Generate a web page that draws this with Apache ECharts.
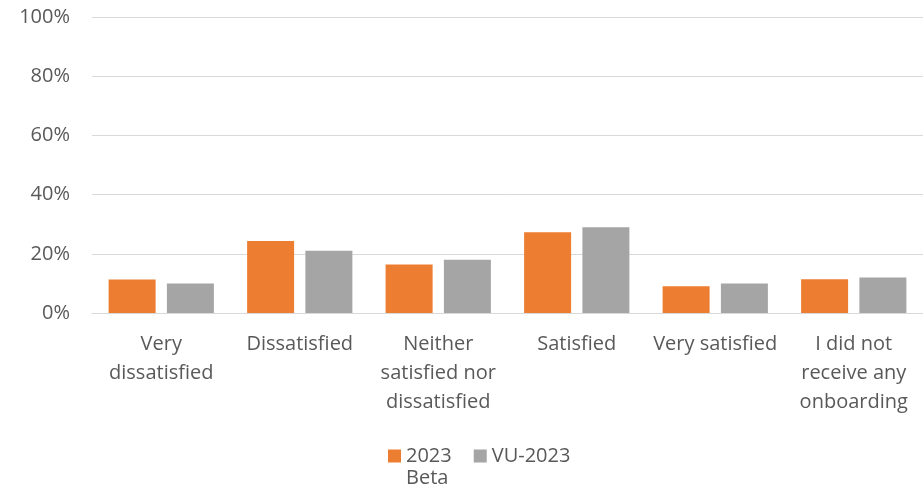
<!DOCTYPE html>
<html>
<head>
<meta charset="utf-8">
<script src="https://cdn.jsdelivr.net/npm/echarts@6/dist/echarts.min.js"></script>
<style>
  html, body { margin: 0; padding: 0; background: #fff; }
  #chart { width: 923px; height: 490px; }
</style>
</head>
<body>
<div id="chart"></div>
<script>
// Onboarding satisfaction, share of respondents per answer
const categories = [
  'Very\ndissatisfied',
  'Dissatisfied',
  'Neither\nsatisfied nor\ndissatisfied',
  'Satisfied',
  'Very satisfied',
  'I did not\nreceive any\nonboarding'
];
const seriesNames = ['2023 Beta', 'VU-2023'];
const beta2023 = [11.3, 24.3, 16.4, 27.3, 9.0, 11.4];
const vu2023 = [10.0, 21.0, 18.0, 29.0, 10.0, 12.0];
const yTicks = [0, 20, 40, 60, 80, 100];

const FONT = '"Open Sans", "Noto Sans", sans-serif';
const TEXT = '#595959';

// Wrapped legend names keep the swatch level with the first line:
// a blank leading line balances the wrapped second line.
function legendLabel(name) {
  const i = name.indexOf(' ');
  return i < 0 ? name : ' \n' + name.slice(0, i) + '\n' + name.slice(i + 1);
}

const chart = echarts.init(document.getElementById('chart'));
chart.setOption({
  animation: false,
  textStyle: { fontFamily: FONT },
  grid: { left: 92, top: 17, width: 837, height: 296, containLabel: false },
  legend: {
    left: 388,
    top: 423,
    padding: 0,
    itemWidth: 13,
    itemHeight: 13,
    itemGap: 22,
    icon: 'rect',
    formatter: legendLabel,
    textStyle: { fontSize: 20, color: TEXT, fontFamily: FONT, lineHeight: 22 },
    data: seriesNames
  },
  xAxis: {
    type: 'category',
    data: categories,
    axisLine: { lineStyle: { color: '#d9d9d9', width: 1 } },
    axisTick: { show: false },
    axisLabel: {
      interval: 0,
      margin: 17,
      fontSize: 20,
      lineHeight: 29,
      color: TEXT,
      fontFamily: FONT
    }
  },
  yAxis: {
    type: 'value',
    min: yTicks[0],
    max: yTicks[yTicks.length - 1],
    interval: 20,
    axisLine: { show: false },
    axisTick: { show: false },
    splitLine: { lineStyle: { color: '#d9d9d9', width: 1 } },
    axisLabel: {
      margin: 22,
      fontSize: 20,
      color: TEXT,
      fontFamily: FONT,
      formatter: v => v + '%'
    }
  },
  series: [
    {
      name: seriesNames[0],
      type: 'bar',
      data: beta2023,
      barWidth: 47,
      barGap: '24%',
      itemStyle: { color: '#ED7D31' }
    },
    {
      name: seriesNames[1],
      type: 'bar',
      data: vu2023,
      barWidth: 47,
      barGap: '24%',
      itemStyle: { color: '#A5A5A5' }
    }
  ]
});
</script>
</body>
</html>
